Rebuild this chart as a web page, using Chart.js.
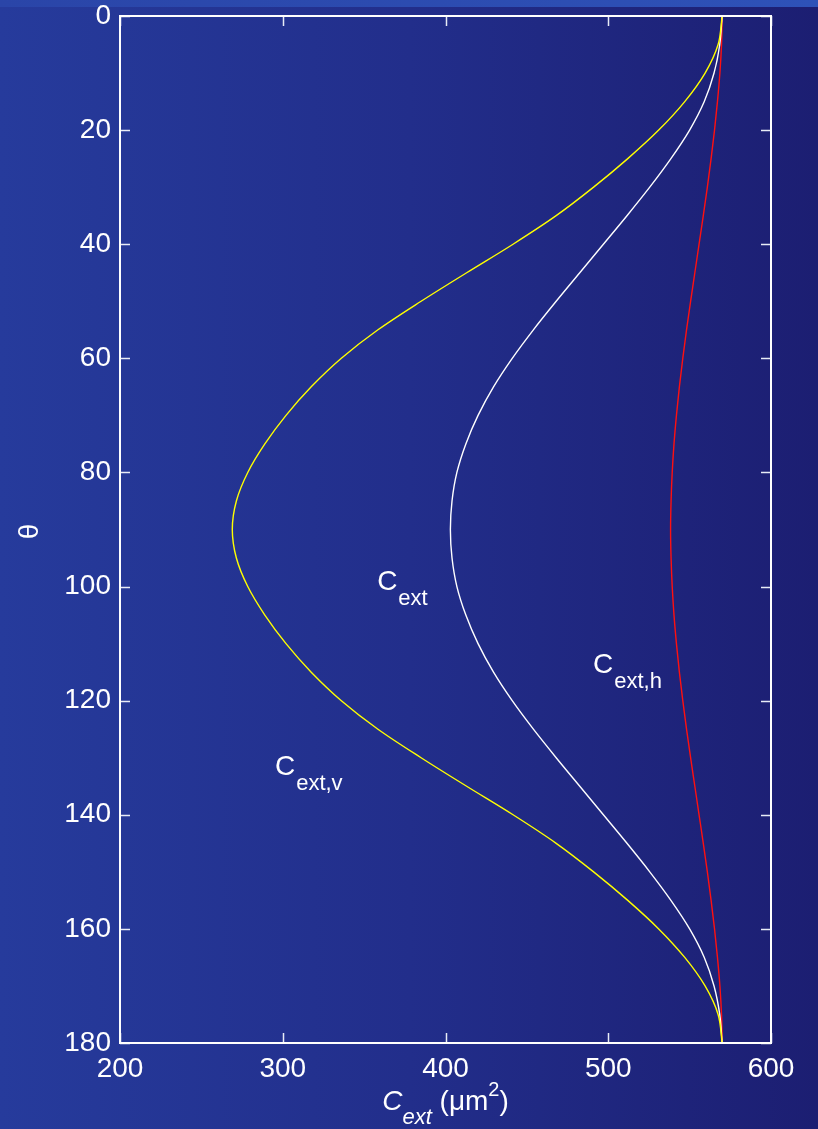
<!DOCTYPE html>
<html><head><meta charset="utf-8">
<style>html,body{margin:0;padding:0;background:#22308a;overflow:hidden}canvas{display:block}</style>
<script src="https://cdn.jsdelivr.net/npm/chart.js@4.4.1/dist/chart.umd.min.js"></script>
</head><body>
<canvas id="c" width="818" height="1129"></canvas>
<script>
// ---- data ----
const thetaDeg = [0,5,10,15,20,25,30,35,40,45,50,55,60,65,70,75,80,85,90,
                  95,100,105,110,115,120,125,130,135,140,145,150,155,160,165,170,175,180];
const cextV = [570,567.5,559.5,547,531,512,491,468,441.5,413,385,358.5,336,317.5,302,289,278.5,271.5,269,
               271.5,278.5,289,302,317.5,336,358.5,385,413,441.5,468,491,512,531,547,559.5,567.5,570];
const cextTotal = [570,568.5,565,559,550,538.5,525.5,511.5,497,482.5,468,454,441,429.5,420,412.5,407,404,403,
                   404,407,412.5,420,429.5,441,454,468,482.5,497,511.5,525.5,538.5,550,559,565,568.5,570];
const cextH = [570,569.6,568.6,567.1,565.3,563.2,560.9,558.4,555.8,553.2,550.6,548.1,545.8,543.7,541.9,540.4,539.3,538.6,538.3,
               538.6,539.3,540.4,541.9,543.7,545.8,548.1,550.6,553.2,555.8,558.4,560.9,563.2,565.3,567.1,568.6,569.6,570];
const xTicks = [200,300,400,500,600];
const yTicks = [0,20,40,60,80,100,120,140,160,180];
const curveLabels = [
  {main:'C', sub:'ext',   x:358, y:100.6},
  {main:'C', sub:'ext,h', x:490.6, y:115.1},
  {main:'C', sub:'ext,v', x:295.2, y:133}
];

const FONT = '"Liberation Sans", Arial, Helvetica, sans-serif';
const pts = arr => arr.map((v,i)=>({x:v, y:thetaDeg[i]}));

const bgPlugin = {
  id:'bg',
  beforeDraw(chart){
    const ctx = chart.ctx, W = chart.width, H = chart.height;
    ctx.save();
    const g = ctx.createLinearGradient(0,0,W,0);
    g.addColorStop(0,'#263b9c');
    g.addColorStop(0.5,'#222e8b');
    g.addColorStop(1,'#1c1e72');
    ctx.fillStyle = g; ctx.fillRect(0,0,W,H);
    const g2 = ctx.createLinearGradient(0,0,W,0);
    g2.addColorStop(0,'#2a45a8'); g2.addColorStop(1,'#2e52b8');
    ctx.fillStyle = g2; ctx.fillRect(0,0,W,7);
    ctx.restore();
  }
};

const framePlugin = {
  id:'frame',
  afterDatasetsDraw(chart){
    const ctx = chart.ctx, a = chart.chartArea;
    const xs = chart.scales.x, ys = chart.scales.y;
    ctx.save();
    ctx.strokeStyle = '#e8ecf6'; ctx.lineWidth = 1.5;
    const L = 10;
    ctx.beginPath();
    xTicks.forEach(v=>{
      const px = Math.round(xs.getPixelForValue(v))+0.5;
      ctx.moveTo(px,a.bottom); ctx.lineTo(px,a.bottom-L);
      ctx.moveTo(px,a.top); ctx.lineTo(px,a.top+L);
    });
    yTicks.forEach(v=>{
      const py = Math.round(ys.getPixelForValue(v))+0.5;
      ctx.moveTo(a.left,py); ctx.lineTo(a.left+L,py);
      ctx.moveTo(a.right,py); ctx.lineTo(a.right-L,py);
    });
    ctx.stroke();
    ctx.strokeStyle = '#ffffff'; ctx.lineWidth = 2;
    ctx.strokeRect(a.left, a.top, a.right-a.left, a.bottom-a.top);

    // curve labels
    ctx.fillStyle = '#ffffff';
    ctx.textBaseline = 'alphabetic'; ctx.textAlign = 'left';
    curveLabels.forEach(l=>{
      const px = xs.getPixelForValue(l.x), py = ys.getPixelForValue(l.y);
      ctx.font = '28px ' + FONT;
      ctx.fillText(l.main, px, py);
      const w = ctx.measureText(l.main).width;
      ctx.font = '22px ' + FONT;
      ctx.fillText(l.sub, px + w + 1, py + 15);
    });

    // x axis title: C_ext (μm^2)
    const cx = (a.left + a.right)/2, by = 1110;
    const parts = [
      {t:'C', f:'italic 28px '+FONT, dy:0},
      {t:'ext', f:'italic 22px '+FONT, dy:14},
      {t:' (\u03bcm', f:'28px '+FONT, dy:0},
      {t:'2', f:'20px '+FONT, dy:-14},
      {t:')', f:'28px '+FONT, dy:0}
    ];
    let total = 0;
    parts.forEach(p=>{ ctx.font = p.f; p.w = ctx.measureText(p.t).width; total += p.w; });
    let x0 = cx - total/2;
    parts.forEach(p=>{ ctx.font = p.f; ctx.fillText(p.t, x0, by + p.dy); x0 += p.w; });

    // y axis title θ
    ctx.save();
    ctx.translate(30, (a.top + a.bottom)/2 + 2);
    ctx.rotate(-Math.PI/2);
    ctx.textAlign = 'center'; ctx.textBaseline = 'middle';
    ctx.font = '28px ' + FONT;
    ctx.fillText('\u03b8', 0, 0);
    ctx.restore();
    ctx.restore();
  }
};

const common = {fill:false, pointRadius:0, borderWidth:1.4, cubicInterpolationMode:'monotone'};
const chart = new Chart(document.getElementById('c'), {
  type:'line',
  data:{
    datasets:[
      Object.assign({label:'Cext,v', data:pts(cextV), borderColor:'#ffff00'}, common),
      Object.assign({label:'Cext', data:pts(cextTotal), borderColor:'#ffffff'}, common),
      Object.assign({label:'Cext,h', data:pts(cextH), borderColor:'#ff1010'}, common)
    ]
  },
  options:{
    indexAxis:'y',
    responsive:false, animation:false, devicePixelRatio:1,
    layout:{padding:{top:16, right:47, left:0, bottom:0}},
    plugins:{legend:{display:false}, tooltip:{enabled:false}},
    scales:{
      x:{type:'linear', min:200, max:600,
         afterBuildTicks(s){ s.ticks = xTicks.map(v=>({value:v})); },
         afterFit(s){ s.height = 86; },
         grid:{display:false, drawTicks:false}, border:{display:false},
         ticks:{color:'#ffffff', font:{family:FONT, size:28}, padding:9, maxRotation:0, autoSkip:false}},
      y:{type:'linear', min:0, max:180, reverse:true,
         afterBuildTicks(s){ s.ticks = yTicks.map(v=>({value:v})); },
         afterFit(s){ s.width = 120; s.paddingTop = 0; s.paddingBottom = 0; },
         grid:{display:false, drawTicks:false}, border:{display:false},
         ticks:{color:'#ffffff', font:{family:FONT, size:28}, padding:9, autoSkip:false}}
    }
  },
  plugins:[bgPlugin, framePlugin]
});
// fine-tune the plot area to the reference frame
const pad = chart.options.layout.padding;
const dTop = chart.chartArea.top - 16;
const dRight = 771 - chart.chartArea.right;
if (Math.abs(dTop) > 0.5 || Math.abs(dRight) > 0.5) {
  pad.top -= dTop; pad.right += dRight;
  chart.update();
}
</script>
</body></html>
